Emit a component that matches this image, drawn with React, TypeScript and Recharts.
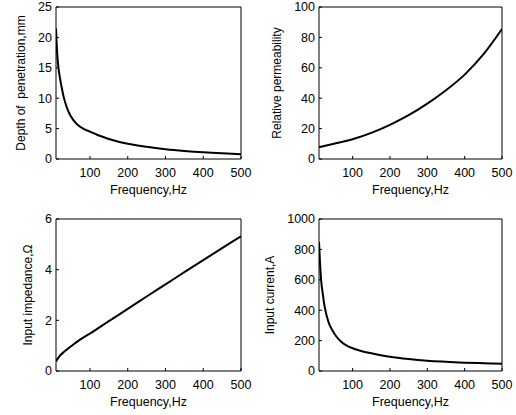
import { Label, Line, LineChart, XAxis, YAxis } from 'recharts'

// frequency ticks shared by all four panels
const freqTicks = [100, 200, 300, 400, 500]

// depth of penetration, mm
const depthFreq = [10, 13, 16, 20, 25, 30, 38, 46, 56, 68, 82, 100, 120, 150, 200, 250, 300, 350, 400, 450, 500]
const depthMm = [21.5, 17.5, 15.3, 13.5, 11.8, 10.3, 8.6, 7.4, 6.4, 5.6, 5.0, 4.5, 3.95, 3.3, 2.5, 2.0, 1.62, 1.33, 1.1, 0.93, 0.8]

// relative permeability
const permFreq = [10, 50, 100, 150, 200, 250, 300, 350, 400, 450, 500]
const permValues = [7.8, 10, 13, 17.2, 22.5, 28.8, 36.4, 45.2, 55.5, 68.8, 85.5]

// input impedance, ohm
const impFreq = [10, 15, 20, 30, 50, 70, 100, 150, 200, 250, 300, 350, 400, 450, 500]
const impOhm = [0.38, 0.5, 0.6, 0.74, 0.98, 1.2, 1.48, 1.97, 2.45, 2.94, 3.42, 3.9, 4.38, 4.85, 5.32]

// input current, A
const curFreq = [10, 13, 16, 20, 23, 28, 32, 38, 45, 55, 68, 82, 100, 125, 150, 200, 250, 300, 350, 400, 450, 500]
const curAmp = [850, 700, 590, 510, 455, 390, 350, 305, 272, 232, 196, 170, 150, 130, 117, 94, 79, 68, 61, 55, 51, 48]

const FONT = '"Liberation Sans", Arial, Helvetica, sans-serif'

const pairs = (xs: number[], ys: number[]) => xs.map((f, i) => ({ f, v: ys[i] }))

interface PanelProps {
  left: number
  top: number
  w: number
  h: number
  data: Array<{ f: number; v: number }>
  yDomain: [number, number]
  yTicks: number[]
  yTitle: string
  yTitleX: number
  tickGap: number
}

// left/top/w/h describe the plot box in page pixels
function Panel({ left, top, w, h, data, yDomain, yTicks, yTitle, yTitleX, tickGap }: PanelProps) {
  const tickStyle = { fill: '#000', fontSize: 12.5, fontFamily: FONT }
  return (
    <div style={{ position: 'absolute', left: left - 56, top: top - 13 }}>
      <LineChart width={w + 75} height={h + 53} data={data} margin={{ top: 8, right: 14, bottom: 0, left: 0 }}>
        <XAxis
          xAxisId="b"
          dataKey="f"
          type="number"
          domain={[10, 500]}
          ticks={freqTicks}
          interval={0}
          allowDataOverflow
          tickSize={-3}
          tickMargin={tickGap + 3}
          height={40}
          stroke="#000"
          tick={tickStyle}
        >
          <Label
            content={(p: any) => (
              <text
                x={p.viewBox.x + p.viewBox.width / 2}
                y={p.viewBox.y + 35}
                textAnchor="middle"
                fontSize={12.5}
                fontFamily={FONT}
                fill="#000"
              >
                Frequency,Hz
              </text>
            )}
          />
        </XAxis>
        <XAxis
          xAxisId="t"
          orientation="top"
          type="number"
          domain={[10, 500]}
          ticks={freqTicks}
          interval={0}
          allowDataOverflow
          tick={false}
          tickSize={-3}
          height={5}
          stroke="#000"
        />
        <YAxis
          yAxisId="l"
          type="number"
          domain={yDomain}
          ticks={yTicks}
          interval={0}
          allowDataOverflow
          tickSize={-3}
          tickMargin={7}
          width={56}
          stroke="#000"
          tick={tickStyle}
        >
          <Label
            content={(p: any) => {
              const x = p.viewBox.x + yTitleX
              const y = p.viewBox.y + p.viewBox.height / 2
              return (
                <text
                  x={x}
                  y={y}
                  transform={`rotate(-90 ${x} ${y})`}
                  textAnchor="middle"
                  dominantBaseline="central"
                  fontSize={12}
                  fontFamily={FONT}
                  fill="#000"
                  style={{ whiteSpace: 'pre' }}
                >
                  {yTitle}
                </text>
              )
            }}
          />
        </YAxis>
        <YAxis
          yAxisId="r"
          orientation="right"
          type="number"
          domain={yDomain}
          ticks={yTicks}
          interval={0}
          allowDataOverflow
          tick={false}
          tickSize={-3}
          width={5}
          stroke="#000"
        />
        <Line
          xAxisId="b"
          yAxisId="l"
          dataKey="v"
          type="monotone"
          stroke="#000"
          strokeWidth={2}
          dot={false}
          isAnimationActive={false}
        />
      </LineChart>
    </div>
  )
}

export default function App() {
  return (
    <div style={{ position: 'absolute', left: 0, top: 0, width: 516, height: 415, background: '#fff' }}>
      <Panel
        left={56}
        top={7}
        w={185}
        h={152}
        data={pairs(depthFreq, depthMm)}
        yDomain={[0, 25]}
        yTicks={[0, 5, 10, 15, 20, 25]}
        yTitle="Depth of  penetration,mm"
        yTitleX={21}
        tickGap={9}
      />
      <Panel
        left={319}
        top={7}
        w={183}
        h={152}
        data={pairs(permFreq, permValues)}
        yDomain={[0, 100]}
        yTicks={[0, 20, 40, 60, 80, 100]}
        yTitle="Relative permeability"
        yTitleX={14}
        tickGap={9}
      />
      <Panel
        left={56}
        top={219}
        w={185}
        h={152}
        data={pairs(impFreq, impOhm)}
        yDomain={[0, 6]}
        yTicks={[0, 2, 4, 6]}
        yTitle="Input impedance,Ω"
        yTitleX={28}
        tickGap={9}
      />
      <Panel
        left={319}
        top={219}
        w={183}
        h={152}
        data={pairs(curFreq, curAmp)}
        yDomain={[0, 1000]}
        yTicks={[0, 200, 400, 600, 800, 1000]}
        yTitle="Input current,A"
        yTitleX={7}
        tickGap={9}
      />
    </div>
  )
}
